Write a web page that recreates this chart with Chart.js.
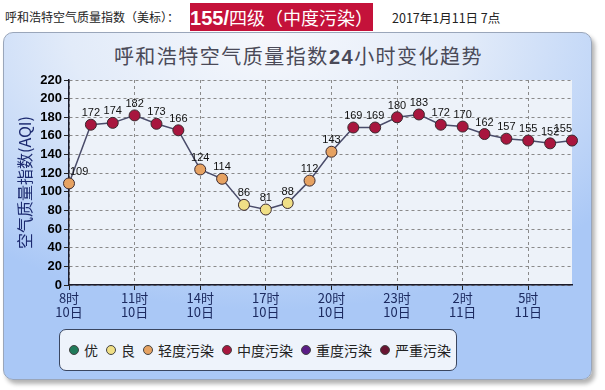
<!DOCTYPE html>
<html>
<head>
<meta charset="utf-8">
<script src="https://cdn.jsdelivr.net/npm/chart.js@4"></script>
<style>
  body { margin:0; width:605px; height:390px; background:#fff; position:relative; overflow:hidden;
         font-family:"Noto Sans CJK SC","DejaVu Sans",sans-serif; }
  #head1 { position:absolute; left:5px; top:8px; font-size:12px; color:#222; }
  #badge { position:absolute; left:190px; top:3px; width:183px; height:28px; background:#c4123a;
           color:#fff; font-size:18px; line-height:28px; text-align:center; letter-spacing:0px; }
  #badge b { font-family:"Liberation Sans",Arial,sans-serif; font-size:20px; }
  #date { position:absolute; left:392px; top:8px; font-size:12.5px; color:#222; }
  #panel { position:absolute; left:3px; top:32px; width:587px; height:346px; border:1px solid #9aa6ba;
           border-radius:10px; box-shadow:3px 4px 4px rgba(0,0,0,0.3);
           background:radial-gradient(ellipse 75% 80% at 45% 0%, #f6f8fc 0%, #e2ebf9 45%, #aac8f6 100%); }
  #title { position:absolute; left:0; width:589px; top:8px; text-align:center; font-size:20px;
           color:#4a4a58; letter-spacing:1.5px; }
  #title b { font-family:"Liberation Sans",Arial,sans-serif; font-weight:bold; }
  #wrap { position:absolute; left:0; top:0; width:589px; height:348px; }
  #legend { position:absolute; left:55px; top:296px; width:398px; height:42px; border:1px solid #3a4660;
            border-radius:7px; background:#eef3fb; display:flex; align-items:center; padding-left:9px;
            box-sizing:border-box; font-size:14px; color:#222; white-space:nowrap; }
  #legend span.dot { display:inline-block; width:8px; height:8px; border-radius:50%; border:1px solid #444;
            margin-right:5px; flex:none; }
  #legend span.item { display:inline-flex; align-items:center; margin-right:8px; flex:none; }
</style>
</head>
<body>
<div id="head1">呼和浩特空气质量指数（美标）：</div>
<div id="badge"><b>155/</b>四级（中度污染）</div>
<div id="date">2017年1月11日 7点</div>
<div id="panel">
  <div id="title">呼和浩特空气质量指数<b>24</b>小时变化趋势</div>
  <div id="wrap"><canvas id="aqiCanvas"></canvas></div>
  <div id="legend"></div>
</div>
<script>
// hours from 8时 on the 10th to 7时 on the 11th
const hours = [8,9,10,11,12,13,14,15,16,17,18,19,20,21,22,23,0,1,2,3,4,5,6,7];
const days  = [10,10,10,10,10,10,10,10,10,10,10,10,10,10,10,10,11,11,11,11,11,11,11,11];
const aqi   = [109,172,174,182,173,166,124,114,86,81,88,112,143,169,169,180,183,172,170,162,157,155,152,155];

const levelNames  = ['优','良','轻度污染','中度污染','重度污染','严重污染'];
const levelLimits = [50,100,150,200,300,500];
const levelColors = ['#1f7a5a','#f0df86','#e6a262','#a8163e','#5a1c86','#681432'];

function levelColor(v){
  for (let i = 0; i < levelLimits.length; i++) {
    if (v <= levelLimits[i]) return levelColors[i];
  }
  return levelColors[levelColors.length-1];
}

let labels = hours.map((h,i) => [h+'时', days[i]+'日']);

// legend in html
let lg = document.getElementById('legend');
levelNames.forEach((n,i) => {
  let it = document.createElement('span');
  it.className = 'item';
  it.innerHTML = '<span class="dot" style="background:'+levelColors[i]+'"></span>'+n;
  lg.appendChild(it);
});

const plotBg = {
  id:'plotBg',
  beforeDraw(chart){
    const a = chart.chartArea, ctx = chart.ctx;
    ctx.save();
    ctx.fillStyle = '#edf2f9';
    ctx.fillRect(a.left, a.top, a.right-a.left, a.bottom-a.top);
    ctx.restore();
  }
};

// numbers above points, kept inside the plot area
const valueLabels = {
  id:'valueLabels',
  afterDatasetsDraw(chart){
    const ctx = chart.ctx, a = chart.chartArea;
    const meta = chart.getDatasetMeta(0);
    ctx.save();
    ctx.font = '11px "Liberation Sans", Arial, sans-serif';
    ctx.fillStyle = '#111';
    ctx.textAlign = 'center';
    ctx.textBaseline = 'bottom';
    meta.data.forEach((pt,i) => {
      let t = String(aqi[i]);
      let w = ctx.measureText(t).width;
      let x = Math.min(Math.max(pt.x, a.left + w/2 + 1), a.right - w/2);
      ctx.fillText(t, x, pt.y - 6);
    });
    ctx.restore();
  }
};

var ctx = document.getElementById('aqiCanvas');
var chart = new Chart(ctx, {
  type:'line',
  data:{
    labels: labels,
    datasets:[{
      data: aqi,
      borderColor:'#4a4c6a',
      borderWidth:1.5,
      tension:0,
      pointRadius:5.5,
      pointHoverRadius:5.5,
      pointBorderWidth:1,
      pointBorderColor:'#3a2a30',
      pointBackgroundColor: aqi.map(levelColor)
    }]
  },
  options:{
    responsive:true,
    maintainAspectRatio:false,
    animation:false,
    events:[],
    layout:{ padding:{ top:47, right:21, left:0, bottom:0 } },
    plugins:{ legend:{display:false}, tooltip:{enabled:false}, title:{display:false} },
    scales:{
      x:{
        offset:false,
        afterFit(s){ s.height = 96; },
        grid:{
          color: c => (c.index % 3 === 0 ? '#8a8a8a' : 'transparent'),
          tickColor: c => (c.index % 3 === 0 ? '#222' : 'transparent'),
          tickLength:5,
          tickBorderDash:[0,0]
        },
        border:{ color:'#1a1a2a', width:1.5, dash:[3,3] },
        ticks:{
          autoSkip:false, maxRotation:0, padding:1,
          color:'#1c2a60',
          font:{ family:'"Noto Sans CJK SC", sans-serif', size:13, lineHeight:1.1 },
          callback:(v,i) => (i % 3 === 0 ? labels[i] : '')
        }
      },
      y:{
        min:0, max:220,
        afterFit(s){ s.width = 65; },
        grid:{ color:'#8a8a8a', tickColor:'#222', tickLength:5 },
        border:{ color:'#1a1a2a', width:1.5, dash:[3,3] },
        ticks:{
          stepSize:20, padding:2, color:'#000',
          font:{ family:'"Liberation Sans", Arial, sans-serif', size:13, weight:'bold' }
        },
        title:{
          display:true, text:'空气质量指数(AQI)', color:'#1c2a70',
          padding:{ top:11, bottom:0 },
          font:{ family:'"Noto Sans CJK SC", sans-serif', size:16 }
        }
      }
    }
  },
  plugins:[plotBg, valueLabels]
});
</script>
</body>
</html>
